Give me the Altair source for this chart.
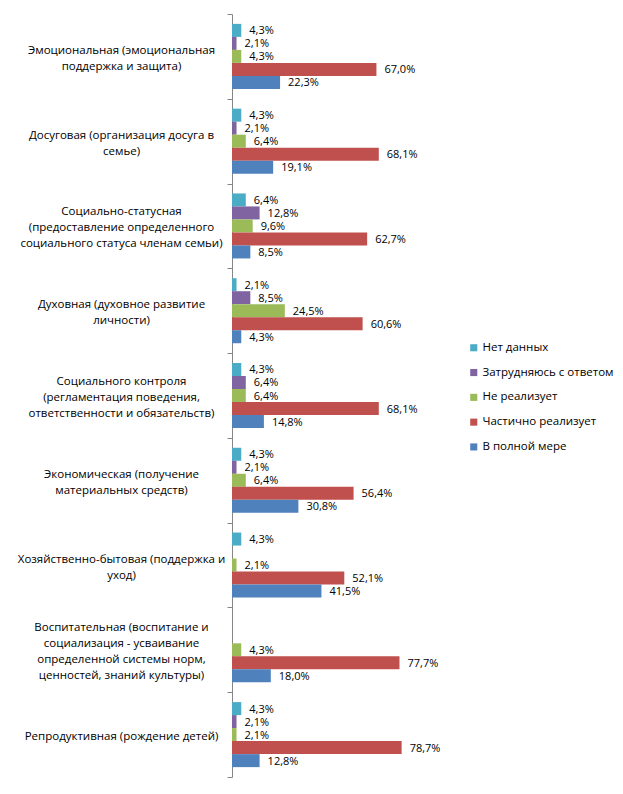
import altair as alt
import pandas as pd

categories = [
    "Эмоциональная (эмоциональная|поддержка и защита)",
    "Досуговая (организация досуга в|семье)",
    "Социально-статусная|(предоставление определенного|социального статуса членам семьи)",
    "Духовная (духовное развитие|личности)",
    "Социального контроля|(регламентация поведения,|ответственности и обязательств)",
    "Экономическая (получение|материальных средств)",
    "Хозяйственно-бытовая (поддержка и|уход)",
    "Воспитательная (воспитание и|социализация - усваивание|определенной системы норм,|ценностей, знаний культуры)",
    "Репродуктивная (рождение детей)",
]

series = ["Нет данных", "Затрудняюсь с ответом", "Не реализует", "Частично реализует", "В полной мере"]
colors = ["#4BACC6", "#8064A2", "#9BBB59", "#C0504D", "#4F81BD"]

net_dannyh = [4.3, 4.3, 6.4, 2.1, 4.3, 4.3, 4.3, 0.0, 4.3]
zatrudnyayus = [2.1, 2.1, 12.8, 8.5, 6.4, 2.1, 0.0, 0.0, 2.1]
ne_realizuet = [4.3, 6.4, 9.6, 24.5, 6.4, 6.4, 2.1, 4.3, 2.1]
chastichno = [67.0, 68.1, 62.7, 60.6, 68.1, 56.4, 52.1, 77.7, 78.7]
v_polnoy = [22.3, 19.1, 8.5, 4.3, 14.8, 30.8, 41.5, 18.0, 12.8]

values = [net_dannyh, zatrudnyayus, ne_realizuet, chastichno, v_polnoy]

rows = []
for s, vals in zip(series, values):
    for c, v in zip(categories, vals):
        if v > 0:
            rows.append({"cat": c, "series": s, "value": v,
                         "label": f"{v:.1f}".replace(".", ",") + "%"})
df = pd.DataFrame(rows)

FONT = "Open Sans"
LH = 16

offset_cond = {
    "condition": [
        {"test": f"length(split(datum.value, '|')) == {n}", "value": -(n - 1) * LH / 2 + 2}
        for n in (2, 3, 4)
    ],
    "value": 2,
}

y_enc = alt.Y("cat:N", sort=categories,
              scale=alt.Scale(domain=categories, paddingInner=0, paddingOuter=0),
              axis=alt.Axis(title=None, labelExpr="split(datum.label, '|')",
                            labelAlign="center", labelPadding=106, labelFont=FONT,
                            labelFontSize=11.5, labelColor="#000000", labelLineHeight=LH,
                            labelOffset=offset_cond,
                            labelLimit=300,
                            tickBand="extent", tickSize=5, tickColor="#868686",
                            domainColor="#868686", grid=False))
yoff = alt.YOffset("series:N", sort=series,
                   scale=alt.Scale(domain=series, paddingOuter=0.76, paddingInner=0))
x_enc = alt.X("value:Q", scale=alt.Scale(domain=[0, 90]), axis=None)

bars = alt.Chart(df).mark_bar().encode(
    y=y_enc, yOffset=yoff, x=x_enc,
    color=alt.Color("series:N", sort=series,
                    scale=alt.Scale(domain=series, range=colors),
                    legend=alt.Legend(title=None, orient="none", legendX=236, legendY=328,
                                      symbolType="square", symbolSize=50,
                                      symbolStrokeWidth=0, labelOffset=3,
                                      labelFont=FONT, labelFontSize=11.5,
                                      labelColor="#000000", rowPadding=11.8)),
)

texts = alt.Chart(df).mark_text(align="left", baseline="middle", dx=8, dy=1,
                                font=FONT, fontSize=11, color="#000000").encode(
    y=y_enc, yOffset=yoff, x=x_enc, text="label:N",
)

chart = (bars + texts).properties(
    width=194, height=763,
    autosize=alt.AutoSizeParams(type="none"),
    padding={"left": 224, "top": 6, "right": 188, "bottom": 10},
).configure_view(stroke=None)

chart.save("out.html", embed_options={"renderer": "svg", "actions": False})
